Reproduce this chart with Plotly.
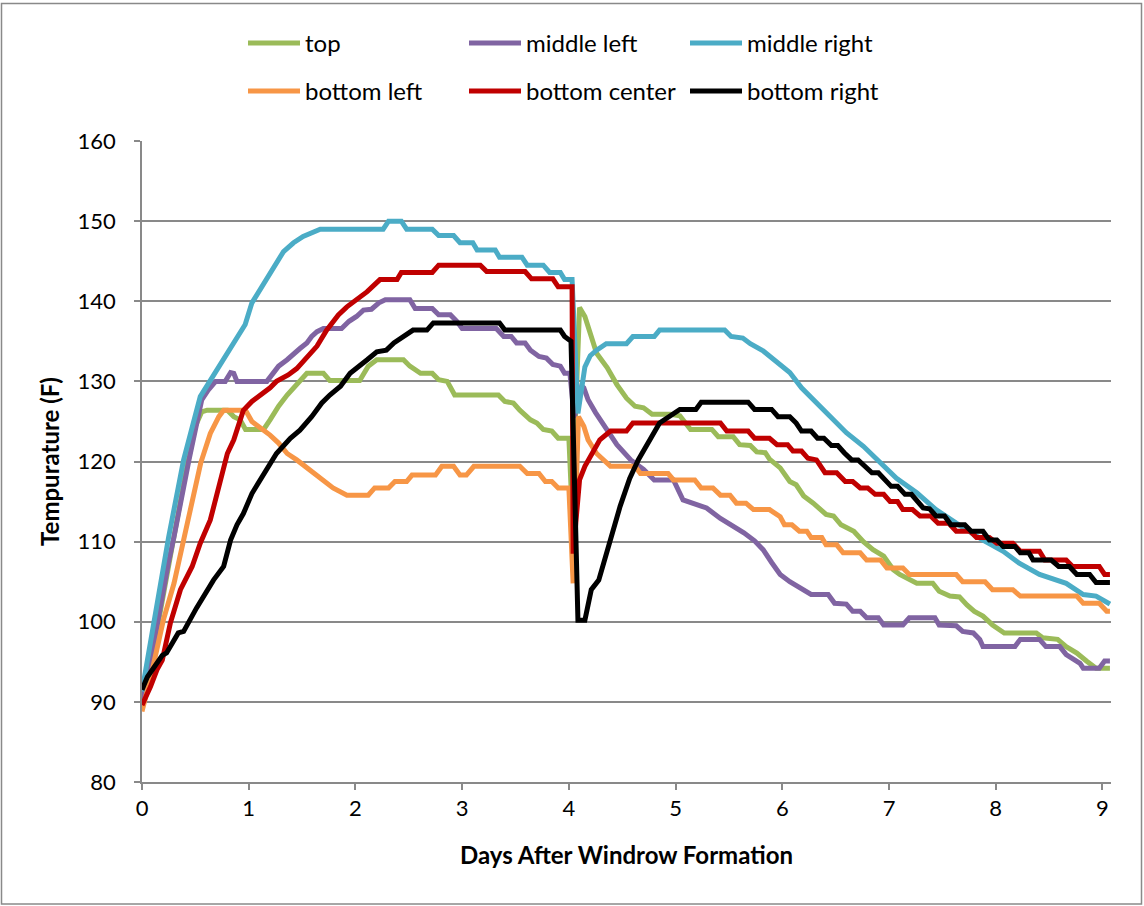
import plotly.graph_objects as go

# Windrow temperature probes (°F) vs. days after windrow formation
top_days = [0, 0.1, 0.25, 0.4, 0.5, 0.56, 0.61, 0.80, 0.86, 0.92, 0.97, 1.14, 1.20, 1.28, 1.36, 1.42, 1.48,
            1.545, 1.70, 1.76, 2.04, 2.12, 2.20, 2.45, 2.51, 2.61, 2.72, 2.78, 2.86, 2.93, 3.34, 3.40, 3.48,
            3.54, 3.64, 3.70, 3.76, 3.84, 3.90, 4.00, 4.03, 4.10, 4.15, 4.26, 4.36, 4.45, 4.54, 4.62, 4.70,
            4.78, 4.95, 5.04, 5.14, 5.34, 5.40, 5.54, 5.60, 5.70, 5.76, 5.84, 5.88, 5.98, 6.07, 6.13, 6.20,
            6.29, 6.41, 6.48, 6.55, 6.67, 6.76, 6.85, 6.95, 7.04, 7.10, 7.26, 7.41, 7.47, 7.57, 7.66, 7.73,
            7.80, 7.88, 7.97, 8.08, 8.38, 8.44, 8.58, 8.66, 8.76, 8.85, 8.94, 9.07]
top_temp = [90.5, 96.0, 107.0, 118.0, 124.4, 126.2, 126.4, 126.4, 125.6, 125.2, 124.0, 124.0, 125.2, 126.9,
            128.3, 129.2, 130.2, 131.0, 131.0, 130.1, 130.1, 131.9, 132.7, 132.7, 131.9, 131.0, 131.0, 130.2,
            130.0, 128.3, 128.3, 127.5, 127.3, 126.4, 125.2, 124.8, 124.0, 123.8, 122.9, 122.9, 114.0, 139.2,
            138.1, 133.5, 131.7, 129.6, 127.9, 126.9, 126.7, 125.9, 125.9, 125.7, 124.0, 124.0, 123.1, 123.1,
            122.1, 122.0, 121.2, 121.1, 120.3, 119.2, 117.5, 117.1, 115.7, 114.8, 113.4, 113.2, 112.1, 111.3,
            110.0, 109.0, 108.2, 106.5, 105.9, 104.8, 104.8, 103.8, 103.2, 103.1, 102.1, 101.3, 100.7, 99.6,
            98.6, 98.6, 98.0, 97.8, 96.9, 96.1, 95.1, 94.2, 94.2]

midleft_days = [0, 0.1, 0.25, 0.30, 0.44, 0.56, 0.62, 0.69, 0.78, 0.83, 0.86, 0.89, 1.17, 1.22, 1.28, 1.36,
                1.42, 1.48, 1.545, 1.59, 1.64, 1.70, 1.87, 1.94, 2.01, 2.075, 2.15, 2.22, 2.28, 2.51, 2.56,
                2.72, 2.78, 2.89, 2.95, 3.00, 3.32, 3.39, 3.46, 3.51, 3.59, 3.64, 3.72, 3.79, 3.85, 3.92, 3.96,
                4.01, 4.05, 4.12, 4.14, 4.18, 4.25, 4.36, 4.45, 4.58, 4.70, 4.80, 4.98, 5.07, 5.17, 5.29, 5.42,
                5.52, 5.64, 5.74, 5.82, 5.90, 5.98, 6.07, 6.17, 6.27, 6.43, 6.49, 6.60, 6.66, 6.73, 6.79, 6.90,
                6.95, 7.13, 7.19, 7.43, 7.47, 7.63, 7.69, 7.79, 7.85, 7.88, 8.18, 8.23, 8.41, 8.47, 8.60, 8.66,
                8.79, 8.82, 8.97, 9.02, 9.07]
midleft_temp = [90.3, 96.5, 107.5, 110.6, 120.2, 127.7, 128.9, 130.0, 130.0, 131.1, 131.0, 130.0, 130.0, 130.8,
                131.9, 132.7, 133.5, 134.1, 134.8, 135.6, 136.2, 136.6, 136.6, 137.5, 138.1, 138.9, 139.0, 139.8,
                140.2, 140.2, 139.1, 139.1, 138.3, 138.3, 137.5, 136.6, 136.6, 135.6, 135.6, 134.8, 134.8, 133.9,
                133.1, 132.9, 132.1, 131.9, 131.0, 131.0, 125.5, 129.4, 129.2, 127.7, 126.1, 124.0, 122.1, 120.2,
                119.0, 117.7, 117.7, 115.2, 114.8, 114.2, 112.9, 112.1, 111.1, 110.1, 109.0, 107.4, 105.9, 105.0,
                104.2, 103.4, 103.4, 102.3, 102.2, 101.3, 101.3, 100.5, 100.5, 99.6, 99.6, 100.5, 100.5, 99.6,
                99.5, 98.8, 98.6, 97.8, 96.9, 96.9, 97.8, 97.8, 96.9, 96.9, 95.9, 94.8, 94.2, 94.2, 95.1, 95.1]

midright_days = [0, 0.25, 0.39, 0.546, 0.967, 1.03, 1.326, 1.42, 1.51, 1.67, 2.26, 2.31, 2.43, 2.48, 2.72,
                 2.78, 2.92, 2.98, 3.10, 3.14, 3.31, 3.35, 3.56, 3.61, 3.76, 3.82, 3.92, 3.96, 4.03, 4.085,
                 4.15, 4.20, 4.26, 4.35, 4.54, 4.60, 4.80, 4.85, 5.46, 5.52, 5.63, 5.70, 5.82, 5.95, 6.07, 6.18,
                 6.32, 6.44, 6.60, 6.76, 6.90, 7.07, 7.26, 7.44, 7.63, 7.88, 8.07, 8.22, 8.41, 8.66, 8.82, 8.94,
                 9.07]
midright_temp = [91.3, 110.6, 120.2, 128.1, 137.1, 139.8, 146.2, 147.3, 148.1, 149.0, 149.0, 150.0, 150.0,
                 149.0, 149.0, 148.2, 148.2, 147.3, 147.3, 146.4, 146.4, 145.5, 145.5, 144.5, 144.5, 143.6,
                 143.6, 142.7, 142.7, 126.0, 131.8, 133.2, 133.9, 134.7, 134.7, 135.6, 135.6, 136.4, 136.4,
                 135.6, 135.4, 134.7, 133.8, 132.3, 131.1, 129.2, 127.3, 125.6, 123.6, 121.9, 120.0, 117.9,
                 116.1, 114.0, 112.3, 110.2, 108.8, 107.3, 105.9, 104.8, 103.4, 103.2, 102.2]

botleft_days = [0, 0.08, 0.20, 0.30, 0.39, 0.47, 0.55, 0.64, 0.72, 0.765, 0.97, 1.03, 1.11, 1.20, 1.28, 1.36,
                1.45, 1.545, 1.62, 1.70, 1.79, 1.92, 2.12, 2.18, 2.31, 2.37, 2.48, 2.53, 2.75, 2.81, 2.92, 2.98,
                3.04, 3.11, 3.54, 3.61, 3.72, 3.78, 3.84, 3.90, 4.00, 4.04, 4.09, 4.14, 4.18, 4.26, 4.34, 4.39,
                4.62, 4.67, 4.93, 4.98, 5.18, 5.24, 5.35, 5.42, 5.51, 5.57, 5.66, 5.73, 5.88, 5.98, 6.02, 6.09,
                6.16, 6.23, 6.27, 6.37, 6.41, 6.51, 6.57, 6.73, 6.79, 6.92, 6.98, 7.13, 7.19, 7.63, 7.69, 7.90,
                7.97, 8.16, 8.23, 8.76, 8.82, 8.97, 9.04, 9.07]
botleft_temp = [88.8, 93.0, 100.2, 104.8, 110.2, 115.2, 119.8, 123.5, 125.6, 126.4, 126.4, 125.0, 124.2, 123.3,
                122.3, 121.0, 120.2, 119.2, 118.3, 117.5, 116.7, 115.8, 115.8, 116.7, 116.7, 117.5, 117.5, 118.3,
                118.3, 119.4, 119.4, 118.3, 118.3, 119.4, 119.4, 118.5, 118.5, 117.5, 117.5, 116.7, 116.7, 104.8,
                125.6, 124.4, 122.7, 121.0, 120.0, 119.4, 119.4, 118.5, 118.5, 117.7, 117.7, 116.7, 116.7, 115.8,
                115.8, 114.8, 114.8, 114.0, 114.0, 113.1, 112.1, 112.1, 111.3, 111.3, 110.5, 110.5, 109.6, 109.6,
                108.6, 108.6, 107.7, 107.7, 106.7, 106.7, 105.9, 105.9, 105.0, 105.0, 104.0, 104.0, 103.2, 103.2,
                102.3, 102.3, 101.3, 101.3]

botcenter_days = [0, 0.08, 0.14, 0.19, 0.265, 0.36, 0.47, 0.546, 0.64, 0.73, 0.80, 0.86, 0.95, 1.03, 1.11,
                  1.20, 1.26, 1.37, 1.45, 1.545, 1.64, 1.73, 1.84, 1.92, 2.01, 2.11, 2.23, 2.39, 2.43, 2.72,
                  2.78, 3.17, 3.23, 3.59, 3.65, 3.85, 3.90, 4.03, 4.04, 4.10, 4.15, 4.29, 4.39, 4.54, 4.60, 5.42,
                  5.48, 5.68, 5.74, 5.88, 5.95, 6.05, 6.10, 6.18, 6.24, 6.32, 6.40, 6.51, 6.59, 6.66, 6.73, 6.80,
                  6.87, 6.95, 7.01, 7.08, 7.13, 7.22, 7.29, 7.39, 7.46, 7.56, 7.63, 7.76, 7.82, 7.94, 8.01, 8.16,
                  8.23, 8.41, 8.46, 8.66, 8.72, 8.97, 9.02, 9.07]
botcenter_temp = [89.6, 91.9, 94.0, 95.2, 99.8, 104.0, 106.9, 109.8, 112.7, 117.3, 121.0, 122.7, 126.4, 127.5,
                  128.3, 129.2, 130.0, 130.8, 131.6, 132.9, 134.4, 136.4, 138.3, 139.3, 140.2, 141.2, 142.7,
                  142.7, 143.6, 143.6, 144.5, 144.5, 143.7, 143.7, 142.8, 142.8, 141.8, 141.8, 108.5, 117.7,
                  119.4, 122.7, 123.8, 123.8, 124.8, 124.8, 123.8, 123.8, 122.9, 122.9, 122.1, 122.1, 121.3,
                  121.3, 120.4, 120.2, 118.6, 118.6, 117.5, 117.5, 116.7, 116.7, 115.9, 115.9, 115.0, 115.0,
                  114.0, 114.0, 113.2, 113.2, 112.3, 112.3, 111.3, 111.3, 110.5, 110.5, 109.8, 109.8, 108.8,
                  108.8, 107.7, 107.7, 106.9, 106.9, 105.9, 105.9]

botright_days = [0, 0.05, 0.19, 0.23, 0.34, 0.39, 0.51, 0.67, 0.765, 0.83, 0.89, 0.95, 1.03, 1.14, 1.26, 1.39,
                 1.48, 1.59, 1.685, 1.76, 1.86, 1.95, 2.04, 2.11, 2.20, 2.29, 2.36, 2.45, 2.54, 2.67, 2.73, 3.35,
                 3.40, 3.92, 3.96, 4.02, 4.085, 4.15, 4.21, 4.28, 4.39, 4.48, 4.57, 4.65, 4.85, 4.95, 5.04, 5.19,
                 5.24, 5.68, 5.74, 5.90, 5.96, 6.07, 6.13, 6.18, 6.27, 6.33, 6.39, 6.46, 6.52, 6.58, 6.65, 6.71,
                 6.77, 6.84, 6.90, 6.96, 7.02, 7.08, 7.15, 7.21, 7.27, 7.32, 7.38, 7.44, 7.52, 7.58, 7.71, 7.77,
                 7.88, 7.94, 8.01, 8.07, 8.18, 8.23, 8.31, 8.35, 8.52, 8.59, 8.69, 8.76, 8.88, 8.94, 9.07]
botright_temp = [91.5, 93.1, 95.8, 96.1, 98.6, 98.8, 101.7, 105.2, 106.9, 110.2, 112.1, 113.5, 116.0, 118.5,
                 121.0, 122.9, 123.9, 125.6, 127.3, 128.3, 129.4, 131.0, 131.9, 132.7, 133.7, 133.9, 134.8,
                 135.6, 136.4, 136.4, 137.3, 137.3, 136.4, 136.4, 135.6, 135.0, 100.2, 100.2, 104.0, 105.2,
                 110.2, 114.4, 117.9, 120.2, 124.8, 125.6, 126.5, 126.5, 127.4, 127.4, 126.5, 126.5, 125.6,
                 125.6, 124.8, 123.8, 123.8, 122.9, 122.9, 122.0, 122.0, 121.1, 120.2, 120.2, 119.4, 118.6,
                 118.6, 117.7, 116.9, 116.9, 115.9, 115.9, 115.0, 114.2, 114.1, 113.2, 113.2, 112.1, 112.1,
                 111.3, 111.3, 110.2, 110.2, 109.4, 109.4, 108.6, 108.6, 107.7, 107.7, 106.9, 106.9, 105.9,
                 105.9, 104.9, 104.9]

series = [
    ("top", top_days, top_temp, "#9BBB59", "legend"),
    ("middle left", midleft_days, midleft_temp, "#8064A2", "legend"),
    ("middle right", midright_days, midright_temp, "#4BACC6", "legend"),
    ("bottom left", botleft_days, botleft_temp, "#F79646", "legend2"),
    ("bottom center", botcenter_days, botcenter_temp, "#C00000", "legend2"),
    ("bottom right", botright_days, botright_temp, "#000000", "legend2"),
]

x_ticks = list(range(0, 10))
y_ticks = list(range(80, 161, 10))

FONT = "Lato, 'Open Sans', sans-serif"
GRAY = "#898989"

fig = go.Figure()
for name, xs, ys, color, leg in series:
    fig.add_trace(go.Scatter(
        x=xs, y=ys, mode="lines", name=name, legend=leg,
        line=dict(color=color, width=5),
    ))

W, H = 1144, 906
ML, MR, MT, MB = 142, 33, 141, 124
pw, ph = W - ML - MR, H - MT - MB

def px_to_paper_x(px):
    return (px - ML) / pw

def py_to_paper_y(py):
    return (H - MB - py) / ph

legend_common = dict(
    orientation="h", xref="container", yref="container", xanchor="left", yanchor="top",
    itemwidth=52, entrywidth=154, entrywidthmode="pixels",
    bgcolor="rgba(0,0,0,0)", font=dict(family=FONT, size=24, color="#000000"),
    itemclick=False, itemdoubleclick=False, tracegroupgap=0,
)

fig.update_layout(
    width=W, height=H,
    margin=dict(l=ML, r=MR, t=MT, b=MB, pad=0),
    paper_bgcolor="#FFFFFF", plot_bgcolor="#FFFFFF",
    font=dict(family=FONT, size=22, color="#000000"),
    showlegend=True,
    legend=dict(x=243 / W, y=1 - 21 / H, **legend_common),
    legend2=dict(x=243 / W, y=1 - 69 / H, **legend_common),
    xaxis=dict(
        range=[0, 9.08], tickmode="array", tickvals=x_ticks, ticktext=[str(v) for v in x_ticks],
        showgrid=False, zeroline=False, showline=True, linecolor=GRAY, linewidth=1.5,
        ticks="outside", ticklen=6, tickwidth=1.5, tickcolor=GRAY,
        tickfont=dict(family=FONT, size=22, color="#000000"),
        title=dict(text="<b>Days After Windrow Formation</b>",
                   font=dict(family=FONT, size=24, color="#000000"), standoff=27),
    ),
    yaxis=dict(
        range=[80, 160], tickmode="array", tickvals=y_ticks, ticktext=[str(v) for v in y_ticks],
        showgrid=True, gridcolor=GRAY, gridwidth=1.5, zeroline=False,
        showline=True, linecolor=GRAY, linewidth=1.5,
        ticks="outside", ticklen=6, tickwidth=1.5, tickcolor=GRAY,
        tickfont=dict(family=FONT, size=22, color="#000000"),
        ticklabelstandoff=14,
        title=dict(text="<b>Tempurature (F)</b>",
                   font=dict(family=FONT, size=24, color="#000000"), standoff=11),
    ),
    shapes=[dict(
        type="rect", xref="paper", yref="paper", layer="below",
        x0=px_to_paper_x(1.5), x1=px_to_paper_x(1141.5),
        y0=py_to_paper_y(904), y1=py_to_paper_y(3.5),
        line=dict(color=GRAY, width=1.5), fillcolor="rgba(0,0,0,0)",
    )],
)

fig.write_html("out.html")
